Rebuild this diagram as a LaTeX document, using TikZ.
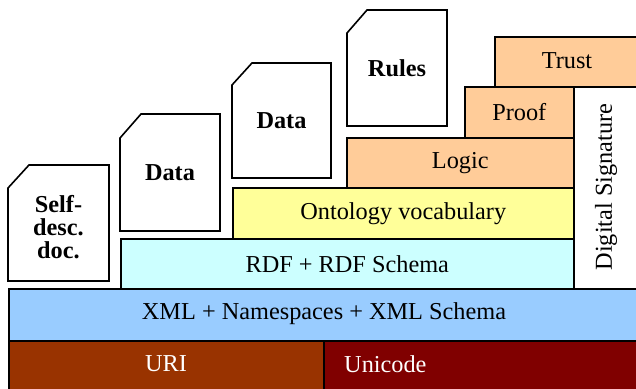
\documentclass[tikz,border=0pt]{standalone}
\usepackage{fontspec}
\setmainfont{Liberation Serif}
\definecolor{uricol}{HTML}{993300}
\definecolor{unicol}{HTML}{800000}
\definecolor{xmlcol}{HTML}{99CCFF}
\definecolor{rdfcol}{HTML}{CCFFFF}
\definecolor{ontcol}{HTML}{FFFF99}
\definecolor{logcol}{HTML}{FFCC99}
\tikzset{
  layer/.style={draw=black, line width=1.6pt, inner sep=0pt, anchor=north west},
  txt/.style={inner sep=0pt, font=\fontsize{24.3}{24}\selectfont},
  doctxt/.style={inner sep=0pt, align=center, font=\fontsize{24.3}{23.3}\selectfont\bfseries},
  docshape/.style={draw=black, line width=1.6pt, fill=white, line join=miter}
}
\begin{document}
\begin{tikzpicture}[x=1pt,y=-1pt]
\useasboundingbox (0,0) rectangle (636,388);
% layers
\node[layer, fill=uricol, minimum width=315pt, minimum height=52pt] (uri) at (8,340) {};
\node[layer, fill=unicol, minimum width=320pt, minimum height=52pt] (unicode) at (323,340) {};
\node[layer, fill=xmlcol, minimum width=632pt, minimum height=52pt] (xml) at (8,288) {};
\node[layer, fill=rdfcol, minimum width=453pt, minimum height=50pt] (rdf) at (120,238) {};
\node[layer, fill=ontcol, minimum width=341pt, minimum height=51pt] (ont) at (232,187) {};
\node[layer, fill=logcol, minimum width=227pt, minimum height=50pt] (logic) at (346,137) {};
\node[layer, fill=logcol, minimum width=109pt, minimum height=51pt] (proof) at (464,86) {};
\node[layer, fill=logcol, minimum width=146pt, minimum height=50pt] (trust) at (494,36) {};
\node[layer, fill=white, minimum width=67pt, minimum height=202pt] (dsig) at (573,86) {};
% layer texts
\node[txt, text=white] (uritxt) at (166,364) {URI};
\node[txt, text=white, anchor=west] (unitxt) at (344,364) {Unicode};
\node[txt] (xmltxt) at (324,314) {XML + Namespaces + XML Schema};
\node[txt] (rdftxt) at (rdf.center) {RDF + RDF Schema};
\node[txt] (onttxt) at (ont.center) {Ontology vocabulary};
\node[txt] (logtxt) at (logic.center) {Logic};
\node[txt] (prooftxt) at (proof.center) {Proof};
\node[txt] (trusttxt) at (567,61) {Trust};
\node[txt, rotate=90] (dsigtxt) at (606,187) {Digital Signature};
% documents
\draw[docshape] (8,188) -- (29,165) -- (109,165) -- (109,281) -- (8,281) -- cycle;
\node[doctxt] (selfdesc) at (58.5,227) {Self-\\desc.\\doc.};
\draw[docshape] (120,138) -- (141,114) -- (220,114) -- (220,231) -- (120,231) -- cycle;
\node[doctxt] (data1) at (170,172.5) {Data};
\draw[docshape] (232,85) -- (252,63) -- (331,63) -- (331,178) -- (232,178) -- cycle;
\node[doctxt] (data2) at (281.5,120.5) {Data};
\draw[docshape] (347,33) -- (367,10) -- (447,10) -- (447,126) -- (347,126) -- cycle;
\node[doctxt] (rules) at (397,68) {Rules};
\end{tikzpicture}
\end{document}
